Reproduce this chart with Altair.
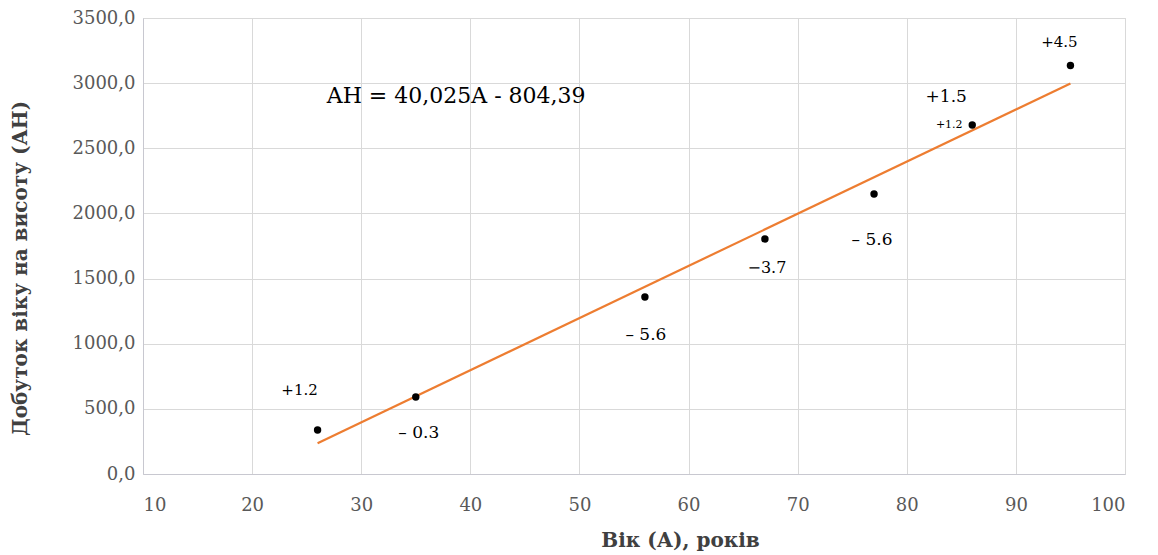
import altair as alt
import pandas as pd

# Data
age = [26, 35, 56, 67, 77, 86, 95]
ah = [338, 591, 1358, 1804, 2149, 2679, 3135]

slope = 40.025
intercept = -804.39
fit_x = [26, 95]

label_point = [0, 1, 2, 3, 4, 5, 5, 6]
label_text = ["+1.2", "\u2013 0.3", "\u2013 5.6", "\u22123.7", "\u2013 5.6", "+1.5", "+1.2", "+4.5"]
label_dx = [-18, 3, 1, 2, -2, -26, -23, -11]
label_dy = [-40, 36, 38, 29, 46, -28, 0, -24]
label_size = [15, 17, 17, 16, 17, 17, 11, 15]

equation = "AH = 40,025A - 804,39"
eq_x = 38.7
eq_y = 2900

pts = pd.DataFrame({"A": age, "AH": ah})
fit = pd.DataFrame({"A": fit_x, "AH": [slope * v + intercept for v in fit_x]})
labs = pd.DataFrame({
    "A": [age[i] for i in label_point],
    "AH": [ah[i] for i in label_point],
    "t": label_text,
})

FONT = "DejaVu Serif"

x = alt.X("A:Q", scale=alt.Scale(domain=[10, 100], nice=False),
          axis=alt.Axis(values=list(range(10, 101, 10)), title="Вік (А), років",
                        titleX=537, titleY=56, labelPadding=22))
y = alt.Y("AH:Q", scale=alt.Scale(domain=[0, 3500], nice=False),
          axis=alt.Axis(values=list(range(0, 3501, 500)), title="Добуток віку на висоту (АН)",
                        labelExpr="replace(format(datum.value, '.1f'), '.', ',')",
                        labelPadding=8, titleX=-113, titleY=250))

line = alt.Chart(fit).mark_line(color="#ED7D31", strokeWidth=2.2).encode(x=x, y=y)
points = alt.Chart(pts).mark_circle(color="black", size=55, opacity=1).encode(x=x, y=y)

text_layers = []
for i in range(len(label_text)):
    row = labs.iloc[[i]]
    text_layers.append(
        alt.Chart(row).mark_text(font=FONT, fontSize=int(label_size[i]), color="black",
                                 dx=int(label_dx[i]), dy=int(label_dy[i]))
        .encode(x=x, y=y, text="t:N")
    )

eq = alt.Chart(pd.DataFrame({"A": [eq_x], "AH": [eq_y], "t": [equation]})).mark_text(
    font=FONT, fontSize=22, color="black").encode(x=x, y=y, text="t:N")

chart = alt.layer(line, points, eq, *text_layers).properties(
    width=982, height=456,
    autosize=alt.AutoSizeParams(type="none"),
    padding={"left": 135, "top": 10, "right": 25, "bottom": 80},
).configure_axis(
    labelFont=FONT, labelFontSize=18, labelColor="#595959",
    titleFont=FONT, titleFontSize=20, titleFontWeight="bold", titleColor="#404040",
    gridColor="#D9D9D9", domainColor="#C8C8D0", tickSize=0,
).configure_axisY(domain=True).configure_view(stroke="#D9D9D9")

chart.save("out.html", embed_options={"renderer": "svg", "actions": False})
